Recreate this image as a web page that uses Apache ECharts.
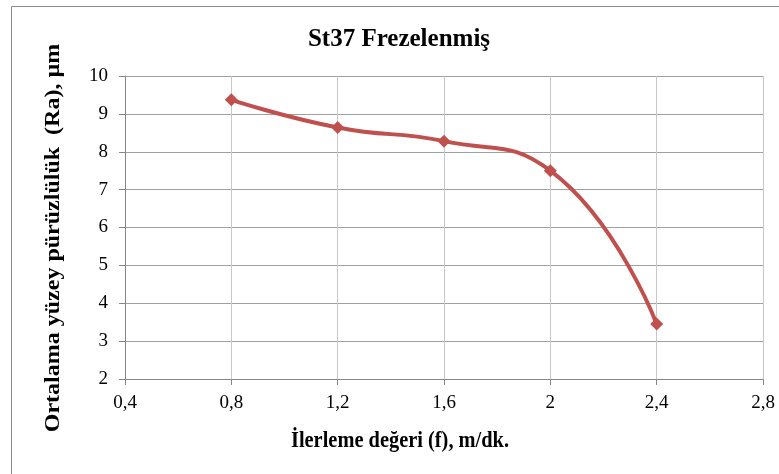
<!DOCTYPE html>
<html><head><meta charset="utf-8">
<script src="https://cdn.jsdelivr.net/npm/echarts@6/dist/echarts.min.js"></script>
<style>html,body{margin:0;padding:0;background:#fff}#c{width:779px;height:474px}</style>
</head><body><div id="c"></div>
<script>
const xValues = [0.8, 1.2, 1.6, 2.0, 2.4];
const raValues = [9.37, 8.64, 8.28, 7.50, 3.45];
const titleText = 'St37 Frezelenmiş';
const xName = 'İlerleme değeri (f), m/dk.';
const yName = 'Ortalama yüzey pürüzlülük  (Ra), µm';

const chart = echarts.init(document.getElementById('c'));
const serif = '"Liberation Serif", "Times New Roman", serif';
chart.setOption({
  animation: false,
  grid: { left: 125, right: 16, top: 76, bottom: 95 },
  xAxis: { type: 'value', min: 0.4, max: 2.8, interval: 0.4,
    axisLine: { lineStyle: { color: '#868686', width: 1 } },
    axisTick: { show: true, inside: false, length: 6, lineStyle: { color: '#868686' } },
    splitLine: { show: true, lineStyle: { color: '#c8c8c8', width: 1 } },
    axisLabel: { margin: 15, fontFamily: serif, fontSize: 19, color: '#000',
      formatter: v => (Math.round(v*10)/10).toString().replace('.', ',') } },
  yAxis: { type: 'value', min: 2, max: 10, interval: 1,
    axisLine: { show: true, lineStyle: { color: '#868686', width: 1 } },
    axisTick: { show: true, length: 6, lineStyle: { color: '#868686' } },
    splitLine: { show: true, lineStyle: { color: '#a0a0a0', width: 1 } },
    axisLabel: { margin: 17, fontFamily: serif, fontSize: 19, color: '#000' } },
  graphic: [
    { type: 'rect', shape: { x: 11.5, y: 6.5, width: 800, height: 500 },
      style: { fill: 'none', stroke: '#8c8c8c', lineWidth: 1 }, silent: true },
    { type: 'text', x: 399, y: 40, style: { text: titleText, font: 'bold 25px ' + serif, fill: '#000', textAlign: 'center', textVerticalAlign: 'middle' } },
    { type: 'text', x: 400, y: 441, scaleX: 0.85, style: { text: xName, font: 'bold 24px ' + serif, fill: '#000', textAlign: 'center', textVerticalAlign: 'middle' } },
    { type: 'text', x: 54, y: 238, rotation: Math.PI/2, scaleY: 0.85, style: { text: yName, font: 'bold 24px ' + serif, fill: '#000', textAlign: 'center', textVerticalAlign: 'middle' } }
  ],
  series: [{ type: 'line', data: xValues.map((x, i) => [x, raValues[i]]), smooth: 0.5,
    lineStyle: { color: '#C0504D', width: 4 }, itemStyle: { color: '#C0504D' },
    symbol: 'diamond', symbolSize: 13 }]
});
</script></body></html>
